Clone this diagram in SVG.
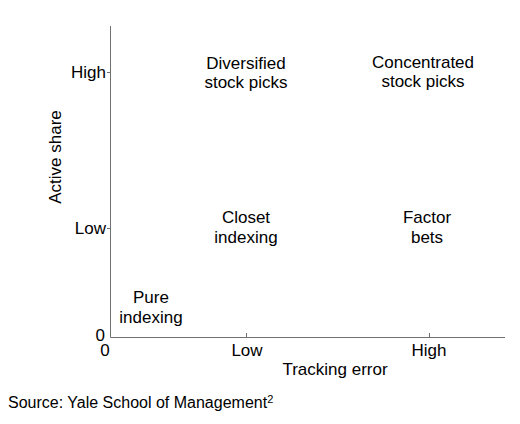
<svg xmlns="http://www.w3.org/2000/svg" width="520" height="424" viewBox="0 0 520 424">
<style>
text{font-family:"Liberation Sans",Arial,sans-serif;font-size:17px;fill:#000}
.c{text-anchor:middle}
.r{text-anchor:end}
.ax{stroke:#707070;stroke-width:1;fill:none}
</style>
<rect width="520" height="424" fill="#fff"/>
<g id="axes">
<path class="ax" d="M110.5 26V337.5H505"/>
<path class="ax" d="M107 72.5H110.5M107 228.5H110.5M246.5 333V337.5M429.5 333V337.5"/>
<text class="r" x="106" y="78">High</text>
<text class="r" x="106" y="234">Low</text>
<text class="r" x="105" y="341">0</text>
<text class="c" x="105" y="355.5">0</text>
<text class="c" x="247" y="356">Low</text>
<text class="c" x="429" y="356">High</text>
<text class="c" x="335" y="375">Tracking error</text>
<text class="c" transform="translate(61,157) rotate(-90)">Active share</text>
</g>
<g id="diversified"><text class="c" x="246" y="69">Diversified</text><text class="c" x="246" y="88">stock picks</text></g>
<g id="concentrated"><text class="c" x="423" y="68">Concentrated</text><text class="c" x="423" y="87">stock picks</text></g>
<g id="closet"><text class="c" x="246" y="223">Closet</text><text class="c" x="246" y="243">indexing</text></g>
<g id="factor"><text class="c" x="427" y="223">Factor</text><text class="c" x="427" y="243">bets</text></g>
<g id="pure"><text class="c" x="151" y="303">Pure</text><text class="c" x="151" y="323">indexing</text></g>
<text x="8" y="408" style="font-size:16px">Source: Yale School of Management<tspan style="font-size:11px" dy="-5">2</tspan></text>
</svg>
